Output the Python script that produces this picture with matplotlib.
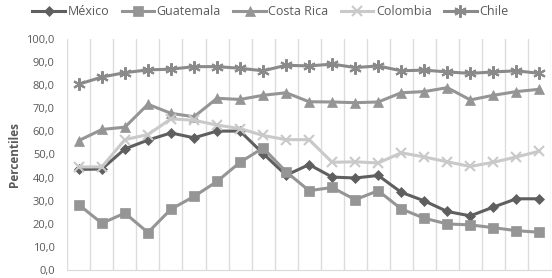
import matplotlib.pyplot as plt
from matplotlib.ticker import FuncFormatter, MultipleLocator

# data (21 periods, no x labels)
mexico = [43.5, 43.7, 52.4, 56.2, 59.3, 57.2, 60.1, 60.1, 50.4, 41.0, 45.6, 40.2,
          39.8, 40.9, 33.6, 29.9, 25.3, 23.4, 27.2, 30.8, 30.8]
guatemala = [28.2, 20.2, 24.6, 16.2, 26.3, 31.8, 38.3, 46.6, 52.8, 42.5, 34.3, 35.7,
             30.4, 34.3, 26.4, 22.4, 19.9, 19.5, 18.3, 17.0, 16.3]
costa_rica = [56.0, 60.8, 61.8, 71.7, 67.8, 66.3, 74.3, 73.8, 75.6, 76.7, 72.8, 72.7,
              72.4, 72.7, 76.7, 77.2, 78.9, 73.6, 75.6, 77.2, 78.2]
colombia = [44.6, 44.6, 56.4, 58.6, 65.4, 64.8, 62.7, 61.2, 58.2, 56.4, 56.4, 46.6,
            46.8, 46.3, 50.7, 48.9, 46.8, 44.8, 46.6, 48.9, 51.4]
chile = [80.4, 83.5, 85.4, 86.6, 86.9, 88.0, 88.0, 87.3, 86.2, 88.6, 88.3, 89.1,
         87.6, 88.3, 86.2, 86.5, 85.7, 85.1, 85.7, 86.2, 85.1]

names = ['México', 'Guatemala', 'Costa Rica', 'Colombia', 'Chile']
series = [mexico, guatemala, costa_rica, colombia, chile]
colors = ['#5f5f5f', '#959595', '#959595', '#c9c9c9', '#8a8a8a']
markers = ['D', 's', '^', 'x', (6, 2, 0)]
msizes = [5, 7, 7, 7, 9]

txt = '#595959'
plt.rcParams['font.family'] = ['Open Sans', 'DejaVu Sans']

fig = plt.figure(figsize=(5.52, 2.78), dpi=100)
ax = fig.add_axes([0.122, 0.029, 0.876, 0.831])

x = list(range(len(chile)))
for name, vals, c, m, ms in zip(names, series, colors, markers, msizes):
    ax.plot(x, vals, color=c, lw=2.2, marker=m, markersize=ms,
            markeredgewidth=1.5 if m in ('x', (6, 2, 0)) else 0.5,
            markeredgecolor=c, markerfacecolor=c, label=name)

ax.set_xlim(-0.5, len(x) - 0.5)
ax.set_ylim(0, 100)
ax.yaxis.set_major_locator(MultipleLocator(10))
ax.yaxis.set_major_formatter(FuncFormatter(lambda v, p: f'{v:.1f}'.replace('.', ',')))
ax.set_xticks([i - 0.5 for i in range(len(x) + 1)])
ax.set_xticklabels([])
ax.grid(axis='x', color='#dcdcdc', lw=1)
ax.tick_params(length=0, labelsize=8, labelcolor=txt, pad=9)
for s in ['top', 'right', 'left']:
    ax.spines[s].set_visible(False)
ax.spines['bottom'].set_color('#d9d9d9')
ax.set_ylabel('Percentiles', fontsize=8.5, color=txt, fontweight='bold', labelpad=4)

fig.legend(loc='upper center', bbox_to_anchor=(0.49, 1.022), ncol=5, frameon=False,
           fontsize=9, labelcolor=txt, handlelength=2.6, columnspacing=1.0,
           handletextpad=0.2)

fig.savefig('out.png', dpi=100)
